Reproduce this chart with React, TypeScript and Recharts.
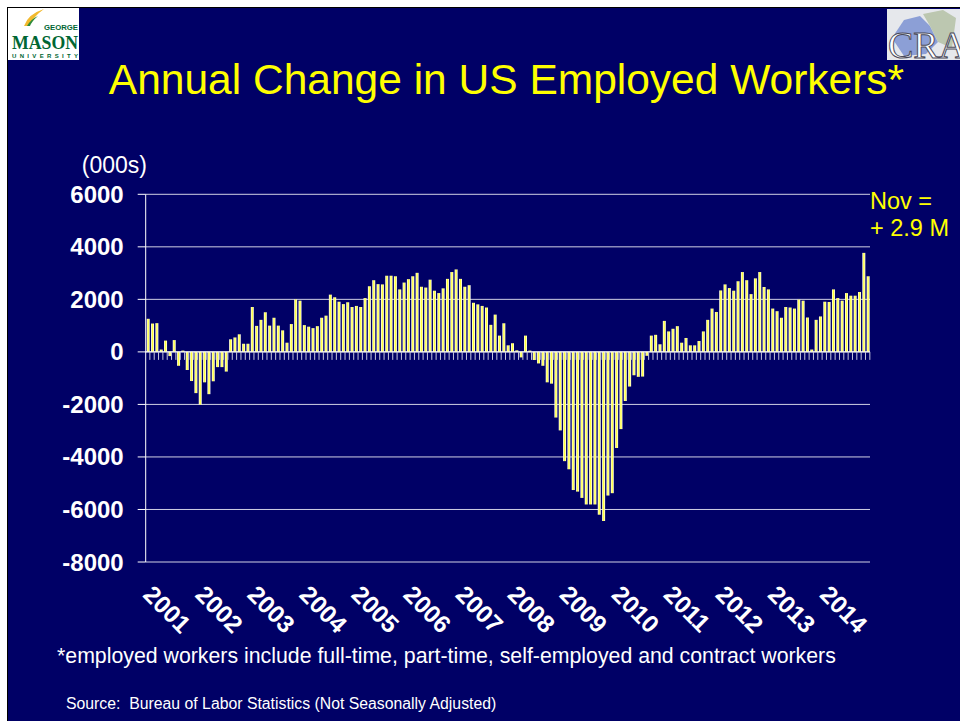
import React from 'react';
import { BarChart, Bar, XAxis, YAxis, CartesianGrid, ReferenceLine } from 'recharts';

// ---------- data ----------
const years = [2001, 2002, 2003, 2004, 2005, 2006, 2007, 2008, 2009, 2010, 2011, 2012, 2013, 2014];
const monthNames = ['Jan', 'Feb', 'Mar', 'Apr', 'May', 'Jun', 'Jul', 'Aug', 'Sep', 'Oct', 'Nov', 'Dec'];

const change2001 = [1260, 1080, 1095, 90, 430, -160, 450, -530, 50, -690, -1110, -1570];
const change2002 = [-2010, -1160, -1610, -1120, -580, -580, -750, 480, 550, 670, 310, 310];
const change2003 = [1710, 990, 1220, 1510, 1000, 1300, 1000, 820, 350, 1060, 2000, 1950];
const change2004 = [1020, 960, 905, 980, 1300, 1380, 2180, 2080, 1910, 1820, 1890, 1710];
const change2005 = [1750, 1710, 2050, 2500, 2730, 2580, 2570, 2900, 2900, 2880, 2380, 2640];
const change2006 = [2770, 2880, 3010, 2480, 2450, 2750, 2330, 2240, 2420, 2780, 3040, 3140];
const change2007 = [2780, 2480, 2540, 1870, 1810, 1750, 1690, 1030, 1420, 620, 1090, 250];
const change2008 = [330, 60, -210, 620, 50, -310, -440, -530, -1160, -1210, -2500, -2990];
const change2009 = [-4160, -4470, -5260, -5320, -5560, -5810, -5810, -5810, -6200, -6440, -5470, -5380];
const change2010 = [-3660, -2940, -1870, -1320, -890, -950, -940, -150, 620, 650, 290, 1180];
const change2011 = [780, 880, 980, 350, 530, 250, 250, 415, 780, 1220, 1650, 1520];
const change2012 = [2340, 2570, 2430, 2330, 2690, 3040, 2730, 2200, 2800, 3040, 2470, 2380];
const change2013 = [1650, 1550, 1300, 1710, 1690, 1650, 1990, 1950, 1310, 90, 1220, 1350];
const change2014 = [1910, 1900, 2380, 2050, 1950, 2240, 2140, 2140, 2280, 3770, 2880];

const yTicks = [6000, 4000, 2000, 0, -2000, -4000, -6000, -8000];
const yMin = -8000;
const yMax = 6000;

const allChanges = [
  ...change2001, ...change2002, ...change2003, ...change2004, ...change2005,
  ...change2006, ...change2007, ...change2008, ...change2009, ...change2010,
  ...change2011, ...change2012, ...change2013, ...change2014,
];

const data = allChanges.map((v, i) => ({
  month: `${monthNames[i % 12]} ${years[Math.floor(i / 12)]}`,
  change: v,
}));

// ---------- layout ----------
const W = 952;
const H = 713;
const plotLeft = 137.7;
const plotRight = 862;
const plotTop = 186.3;
const plotBottom = 554;
const plotH = plotBottom - plotTop;
const zeroY = plotTop + plotH * (yMax / (yMax - yMin));
const xAxisH = 30;

const FONT = 'Liberation Sans, Arial, Helvetica, sans-serif';
const NAVY = '#000066';
const YELLOW = '#FFFF00';

const MonthTick = (props: any) => {
  const { x, payload, index } = props;
  const i = payload && typeof payload.index === 'number' ? payload.index : index;
  const isJan = i % 12 === 0;
  return (
    <g>
      <line x1={x + 2} x2={x + 2} y1={zeroY} y2={zeroY + 8} stroke="#c8c8dc" strokeWidth={1} />
      {isJan && (
        <text
          transform={`translate(${x - 6},${plotBottom + 34}) rotate(45)`}
          fill="#FFFFFF"
          fontSize={24.5}
          fontWeight="bold"
          fontFamily={FONT}
          textAnchor="start"
        >
          {years[i / 12]}
        </text>
      )}
    </g>
  );
};

export default function App() {
  return (
    <div
      style={{
        position: 'absolute',
        left: 7,
        top: 7,
        width: W,
        height: H,
        background: NAVY,
        borderLeft: '1px solid #000',
        borderTop: '1px solid #000',
        overflow: 'hidden',
      }}
    >
      <div style={{ position: 'absolute', left: 0, top: 0 }}>
        <BarChart
          width={W}
          height={H}
          data={data}
          margin={{ top: plotTop, right: W - plotRight, left: plotLeft - 70, bottom: H - plotBottom - xAxisH }}
          barSize={3}
        >
          <defs>
            <linearGradient id="barGrad" x1="0" y1="0" x2="1" y2="0">
              <stop offset="0%" stopColor="#FFFFFF" />
              <stop offset="50%" stopColor="#FFFF33" />
              <stop offset="100%" stopColor="#FFFFFF" />
            </linearGradient>
          </defs>
          <CartesianGrid vertical={false} stroke="#d0d0e4" strokeWidth={1} />
          <XAxis
            dataKey="month"
            axisLine={false}
            tickLine={false}
            interval={0}
            height={xAxisH}
            tick={<MonthTick />}
          />
          <YAxis
            type="number"
            domain={[yMin, yMax]}
            ticks={yTicks}
            interval={0}
            width={70}
            tickSize={8}
            tickMargin={14}
            axisLine={{ stroke: '#FFFFFF', strokeWidth: 1 }}
            tickLine={{ stroke: '#FFFFFF', strokeWidth: 1 }}
            tick={{ fill: '#FFFFFF', fontSize: 24, fontWeight: 'bold', fontFamily: FONT }}
          />
          <ReferenceLine y={0} stroke="#FFFFFF" strokeWidth={1} />
          <Bar dataKey="change" fill="url(#barGrad)" isAnimationActive={false} />
        </BarChart>
      </div>

      <svg
        width={W}
        height={H}
        style={{ position: 'absolute', left: 0, top: 0, pointerEvents: 'none' }}
      >
        {/* George Mason logo */}
        <rect x={0} y={0} width={71} height={52} fill="#FFFFFF" />
        <path d="M16,18 Q20,6 36,1 Q26,8 21,18 Z" fill="#F2B92E" />
        <path d="M19,18 Q23,11 30,8 Q24,13 22,18 Z" fill="#2E8B3A" />
        <text x={36} y={22} fontSize={7.5} fontWeight="bold" fill="#006633" fontFamily={FONT} textLength={34} lengthAdjust="spacingAndGlyphs">GEORGE</text>
        <text x={4} y={41} fontSize={19} fontWeight="bold" fill="#006633" fontFamily="Liberation Serif, Times New Roman, serif" textLength={66} lengthAdjust="spacingAndGlyphs">MASON</text>
        <text x={4} y={50} fontSize={6} fontWeight="bold" fill="#006633" fontFamily={FONT} textLength={66} lengthAdjust="spacing">UNIVERSITY</text>

        {/* CRA logo */}
        <rect x={879} y={1} width={73} height={51} fill="#E6E8EC" />
        <path d="M884,30 L896,12 L912,8 L922,18 L930,34 L918,46 L896,48 Z" fill="#8C9FD6" />
        <path d="M915,6 L935,2 L948,10 L944,40 L930,34 L922,18 Z" fill="#BCC7B0" />
        <text x={880} y={50} fontSize={38} fill="#FFFFFF" stroke="#4A4A5A" strokeWidth={1} fontFamily="Liberation Serif, Times New Roman, serif">CRA</text>

        {/* Title */}
        <text x={498.5} y={86} textAnchor="middle" fontSize={42.5} fill={YELLOW} fontFamily={FONT}>
          Annual Change in US Employed Workers*
        </text>

        {/* Units label */}
        <text x={139} y={164.5} textAnchor="end" fontSize={23} fill="#FFFFFF" fontFamily={FONT}>(000s)</text>

        {/* Annotation */}
        <text x={862} y={201} fontSize={23.5} fill={YELLOW} fontFamily={FONT}>Nov =</text>
        <text x={862} y={228} fontSize={23.5} fill={YELLOW} fontFamily={FONT}>+ 2.9 M</text>

        {/* Footnote */}
        <text x={49} y={655} fontSize={21.3} fill="#FFFFFF" fontFamily={FONT}>
          *employed workers include full-time, part-time, self-employed and contract workers
        </text>
        <text x={58} y={701} fontSize={15.8} fill="#FFFFFF" fontFamily={FONT} style={{ whiteSpace: 'pre' }}>
          {'Source:  Bureau of Labor Statistics (Not Seasonally Adjusted)'}
        </text>
      </svg>
    </div>
  );
}
